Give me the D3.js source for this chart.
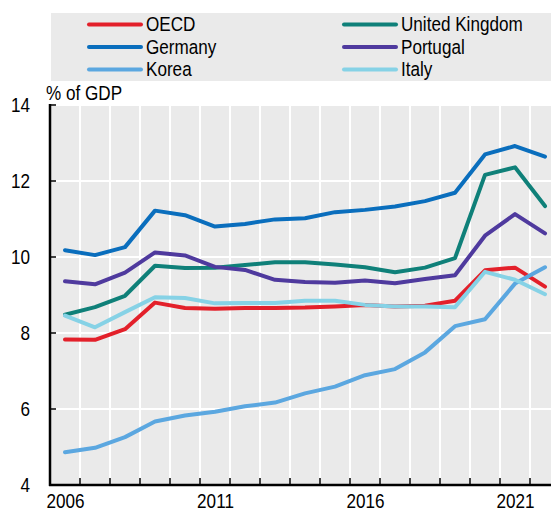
<!DOCTYPE html>
<html>
<head>
<meta charset="utf-8">
<script src="https://cdn.jsdelivr.net/npm/d3@7"></script>
<style>
  html, body { margin: 0; padding: 0; background: #fff; }
  svg { display: block; font-family: "Liberation Sans", Arial, sans-serif; }
</style>
</head>
<body>
<svg id="chart" width="551" height="511"></svg>
<script>
const years = [2006,2007,2008,2009,2010,2011,2012,2013,2014,2015,2016,2017,2018,2019,2020,2021,2022];
const seriesNames = ["OECD","United Kingdom","Germany","Portugal","Korea","Italy"];
const oecd     = [7.83,7.82,8.10,8.80,8.66,8.64,8.66,8.66,8.67,8.70,8.74,8.70,8.72,8.85,9.65,9.72,9.22];
const uk       = [8.48,8.68,8.98,9.77,9.71,9.72,9.79,9.86,9.86,9.80,9.73,9.60,9.72,9.97,12.16,12.36,11.34];
const germany  = [10.18,10.05,10.26,11.22,11.10,10.80,10.87,10.99,11.02,11.18,11.24,11.33,11.47,11.69,12.70,12.92,12.64];
const portugal = [9.36,9.28,9.59,10.12,10.04,9.74,9.66,9.40,9.34,9.32,9.38,9.31,9.42,9.52,10.56,11.13,10.62];
const korea    = [4.86,4.98,5.26,5.67,5.83,5.93,6.07,6.17,6.41,6.59,6.89,7.05,7.49,8.18,8.36,9.30,9.73];
const italy    = [8.46,8.15,8.55,8.94,8.92,8.78,8.79,8.79,8.85,8.85,8.74,8.70,8.70,8.68,9.61,9.40,9.02];
const yTicks = [4,6,8,10,12,14];
const xLabelYears = [2006,2011,2016,2021];
const colors = ["#e3202a","#0f8079","#0a6ebd","#4f3a9e","#5ba7e0","#86d2e6"];
const seriesValues = [oecd, uk, germany, portugal, korea, italy];

const FS = 20.5;   // font size
const SX = 0.835;  // horizontal compression (narrow face)

const svg = d3.select("#chart");
const x = d3.scaleLinear().domain([2005.5, 2022.5]).range([50, 560]);
const y = d3.scaleLinear().domain([4, 14]).range([485, 105]);
const bg = "#eaeaea";

function narrowText(parent, px, py, str, anchor) {
  return parent.append("text")
    .attr("x", px / SX).attr("y", py)
    .attr("transform", `scale(${SX},1)`)
    .attr("font-size", FS).attr("fill", "#000")
    .attr("text-anchor", anchor || "start")
    .text(str);
}

// Legend box
const lg = svg.append("g");
lg.append("rect").attr("x", 51).attr("y", 13).attr("width", 500).attr("height", 68).attr("fill", bg);
const legendOrder = [0,2,4,1,3,5];
legendOrder.forEach((si, k) => {
  const col = k < 3 ? 0 : 1;
  const row = k % 3;
  const lx = col === 0 ? 89 : 344;
  const ly = 24.5 + row * 22.5;
  lg.append("line").attr("x1", lx).attr("x2", lx + 52).attr("y1", ly).attr("y2", ly)
    .attr("stroke", colors[si]).attr("stroke-width", 4).attr("stroke-linecap", "round");
  narrowText(lg, lx + 57, ly + 7, seriesNames[si]);
});

// Plot background
svg.append("rect").attr("x", 50).attr("y", 105).attr("width", 510).attr("height", 380).attr("fill", bg);

// Gridlines
const gridYears = years.slice(0, -1).map(d => d + 0.5);
svg.append("g").selectAll("line").data(gridYears).join("line")
  .attr("x1", d => x(d)).attr("x2", d => x(d)).attr("y1", 105).attr("y2", 485)
  .attr("stroke", "#fff").attr("stroke-width", 2);
svg.append("g").selectAll("line").data(yTicks.slice(1)).join("line")
  .attr("x1", 50).attr("x2", 560).attr("y1", d => y(d)).attr("y2", d => y(d))
  .attr("stroke", "#fff").attr("stroke-width", 2);

// Lines
const line = d3.line().x((d, i) => x(years[i])).y(d => y(d)).curve(d3.curveLinear);
seriesValues.forEach((vals, si) => {
  svg.append("path").datum(vals).attr("d", line)
    .attr("fill", "none").attr("stroke", colors[si]).attr("stroke-width", 4)
    .attr("stroke-linejoin", "round").attr("stroke-linecap", "round");
});

// Y axis
const yAxis = svg.append("g").attr("transform", "translate(50,0)")
  .call(d3.axisLeft(y).tickValues(yTicks).tickSize(0).tickPadding(20).tickFormat(d3.format("d")));
yAxis.select(".domain").remove();
yAxis.selectAll("text").attr("font-size", FS).attr("fill", "#000")
  .attr("font-family", "'Liberation Sans', Arial, sans-serif")
  .attr("x", -20 / SX).attr("transform", `scale(${SX},1)`);
svg.append("g").selectAll("line").data(yTicks).join("line")
  .attr("x1", 50).attr("x2", 56).attr("y1", d => y(d)).attr("y2", d => y(d))
  .attr("stroke", "#000").attr("stroke-width", 1.5);
svg.append("line").attr("x1", 50).attr("x2", 50).attr("y1", 104).attr("y2", 486)
  .attr("stroke", "#000").attr("stroke-width", 2.5);

// X axis
svg.append("g").selectAll("line").data(gridYears).join("line")
  .attr("x1", d => x(d)).attr("x2", d => x(d)).attr("y1", 478).attr("y2", 485)
  .attr("stroke", "#000").attr("stroke-width", 1.5);
svg.append("line").attr("x1", 49).attr("x2", 560).attr("y1", 485).attr("y2", 485)
  .attr("stroke", "#000").attr("stroke-width", 2.5);
const xAxis = svg.append("g").attr("transform", "translate(0,485)")
  .call(d3.axisBottom(x).tickValues(xLabelYears).tickSize(0).tickPadding(8).tickFormat(d3.format("d")));
xAxis.select(".domain").remove();
xAxis.selectAll("text").attr("font-size", FS).attr("fill", "#000")
  .attr("font-family", "'Liberation Sans', Arial, sans-serif")
  .attr("transform", `scale(${SX},1)`);

// Unit label
narrowText(svg, 46, 100, "% of GDP");
</script>
</body>
</html>
